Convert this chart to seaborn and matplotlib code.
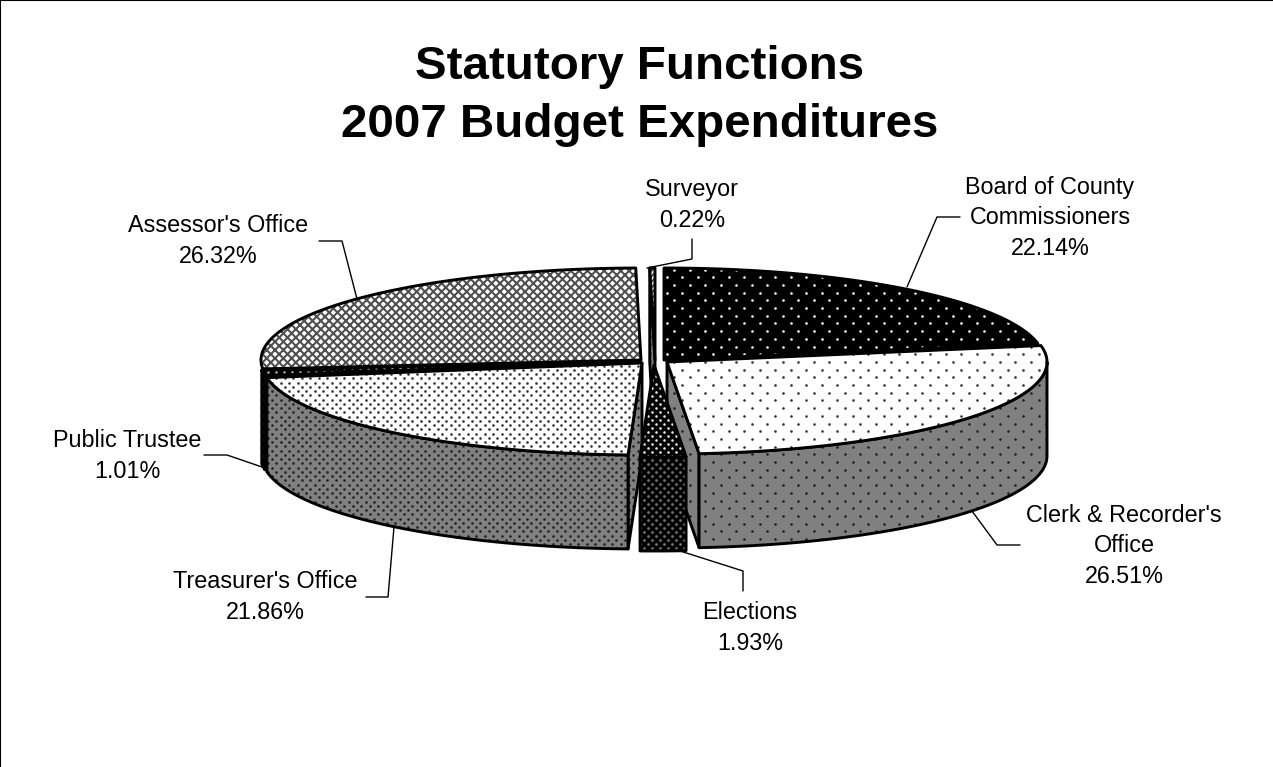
import numpy as np
import pandas as pd
import seaborn as sns
import matplotlib
matplotlib.use("Agg")
import matplotlib.pyplot as plt
from matplotlib.patches import Polygon

# ---- data ----
departments = ["Board of County\nCommissioners", "Clerk & Recorder's\nOffice", "Elections",
               "Treasurer's Office", "Public Trustee", "Assessor's Office", "Surveyor"]
shares = [22.14, 26.51, 1.93, 21.86, 1.01, 26.32, 0.22]
title_lines = ["Statutory Functions", "2007 Budget Expenditures"]

# ---- layout (pixel-scaled axes) ----
RX, RY, DEPTH = 380, 92, 94
apex_x = [664, 667, 654, 642, 640, 641, 655]
apex_y = [360, 362, 365, 363, 361, 360, 360]
label_x = [1050, 1124, 750, 265, 127, 218, 692]
label_y = [218, 546, 628, 597, 456, 241, 205]
leaders = [[(960, 217), (937, 217), (907, 287)],
           [(1020, 545), (997, 545), (972, 511)],
           [(743, 591), (743, 571), (677, 550)],
           [(366, 597), (388, 597), (394, 527)],
           [(204, 455), (227, 455), (262, 467)],
           [(319, 241), (342, 241), (357, 299)],
           [(692, 239), (692, 259), (647, 268)]]
# top face: (face, dot colour, dx, dy, hatch)
top_style = [("black", "white", 15.5, 7.7, None),
             ("white", "#303030", 15.5, 7.7, None),
             ("black", "#e8e8e8", 8, 4, None),
             ("white", "#303030", 8.5, 4.25, None),
             ("black", "#b0b0b0", 8, 4, None),
             ("white", None, 0, 0, "xxxx"),
             ("white", None, 0, 0, "//////")]
wall_style = [("#808080", "#202020", 15.5, 7.7),
              ("#808080", "#202020", 15.5, 7.7),
              ("black", "#808080", 8, 4),
              ("#808080", "#202020", 8.5, 4.25),
              ("black", "#c0c0c0", 8, 4),
              None,
              ("#808080", "#202020", 8.5, 4.25)]

df = pd.DataFrame({"department": departments, "share": shares})
df["end"] = df["share"].cumsum() / df["share"].sum() * 360
df["start"] = df["end"].shift(fill_value=0.0)

sns.set_theme(style="white")
plt.rcParams["font.family"] = ["Liberation Sans", "DejaVu Sans"]
plt.rcParams["hatch.linewidth"] = 1.5

fig, ax = plt.subplots(figsize=(12.73, 7.67), dpi=100)
fig.subplots_adjust(0, 0, 1, 1)
ax.set_xlim(0, 1273)
ax.set_ylim(767, 0)
ax.set_xticks([])
ax.set_yticks([])
sns.despine(ax=ax, top=False, left=False, right=True, bottom=True)
for s in ("top", "left"):
    ax.spines[s].set_color("black")
    ax.spines[s].set_linewidth(1.5)

LW = 2.1


def rim(i, angles):
    t = np.radians(angles)
    return np.column_stack([apex_x[i] + RX * np.sin(t), apex_y[i] - RY * np.cos(t)])


def face(verts, fc, dot=None, dx=0, dy=0, hatch=None, z=1):
    base = Polygon(verts, closed=True, fc=fc, ec="none", lw=0, zorder=z)
    ax.add_patch(base)
    if hatch:
        ax.add_patch(Polygon(verts, closed=True, fc="none", ec="#505050", hatch=hatch, lw=0, zorder=z))
    if dot:
        xmin, ymin = verts.min(axis=0)
        xmax, ymax = verts.max(axis=0)
        rows = np.arange(np.floor(ymin / dy), np.ceil(ymax / dy) + 1)
        px, py = [], []
        for r in rows:
            xs = np.arange(np.floor(xmin / dx) - 1, np.ceil(xmax / dx) + 1) * dx + (r % 2) * dx / 2
            px.extend(xs)
            py.extend([r * dy] * len(xs))
        sc = ax.scatter(px, py, s=3.5, c=dot, linewidths=0, zorder=z)
        sc.set_clip_path(base)
    ax.add_patch(Polygon(verts, closed=True, fill=False, ec="black", lw=LW, joinstyle="round", zorder=z))


def draw_slice(i, z):
    a0, a1 = df.loc[i, "start"], df.loc[i, "end"]
    fc, dot, dx, dy, hatch = top_style[i]
    apex = np.array([[apex_x[i], apex_y[i]]], dtype=float)
    down = np.array([0, DEPTH])
    if wall_style[i] is not None:
        wfc, wdot, wdx, wdy = wall_style[i]
        # cut faces which turn towards the viewer
        cuts = []
        if 90 < a1 < 180:
            cuts.append(a1)
        if a0 > 180:
            cuts.append(a0)
        for cut in cuts:
            r = rim(i, [cut])
            face(np.vstack([apex, r, r + down, apex + down]), wfc, wdot, wdx, wdy, z=z)
        # outer wall (front half only)
        lo, hi = max(a0, 90), min(a1, 270)
        if hi > lo:
            arc = rim(i, np.linspace(lo, hi, 80))
            face(np.vstack([arc, arc[::-1] + down]), wfc, wdot, wdx, wdy, z=z)
    # top face
    arc = rim(i, np.linspace(a0, a1, 120))
    face(np.vstack([apex, arc]), fc, dot, dx, dy, hatch, z=z + 0.5)


# painter's order: back to front
for z, i in enumerate([0, 5, 6, 4, 3, 1, 2]):
    draw_slice(i, 2 + z)

for i, row in df.iterrows():
    pts = np.array(leaders[i])
    ax.plot(pts[:, 0], pts[:, 1], color="black", lw=1, zorder=20)
    ax.text(label_x[i], label_y[i], f"{row['department']}\n{row['share']:.2f}%",
            ha="center", va="center", fontsize=16.8, color="black", linespacing=1.43, zorder=21)

ax.text(640, 96, "\n".join(title_lines), ha="center", va="center", fontsize=34.2,
        fontweight="bold", color="black", linespacing=1.41)

fig.savefig("out.png", dpi=100)
